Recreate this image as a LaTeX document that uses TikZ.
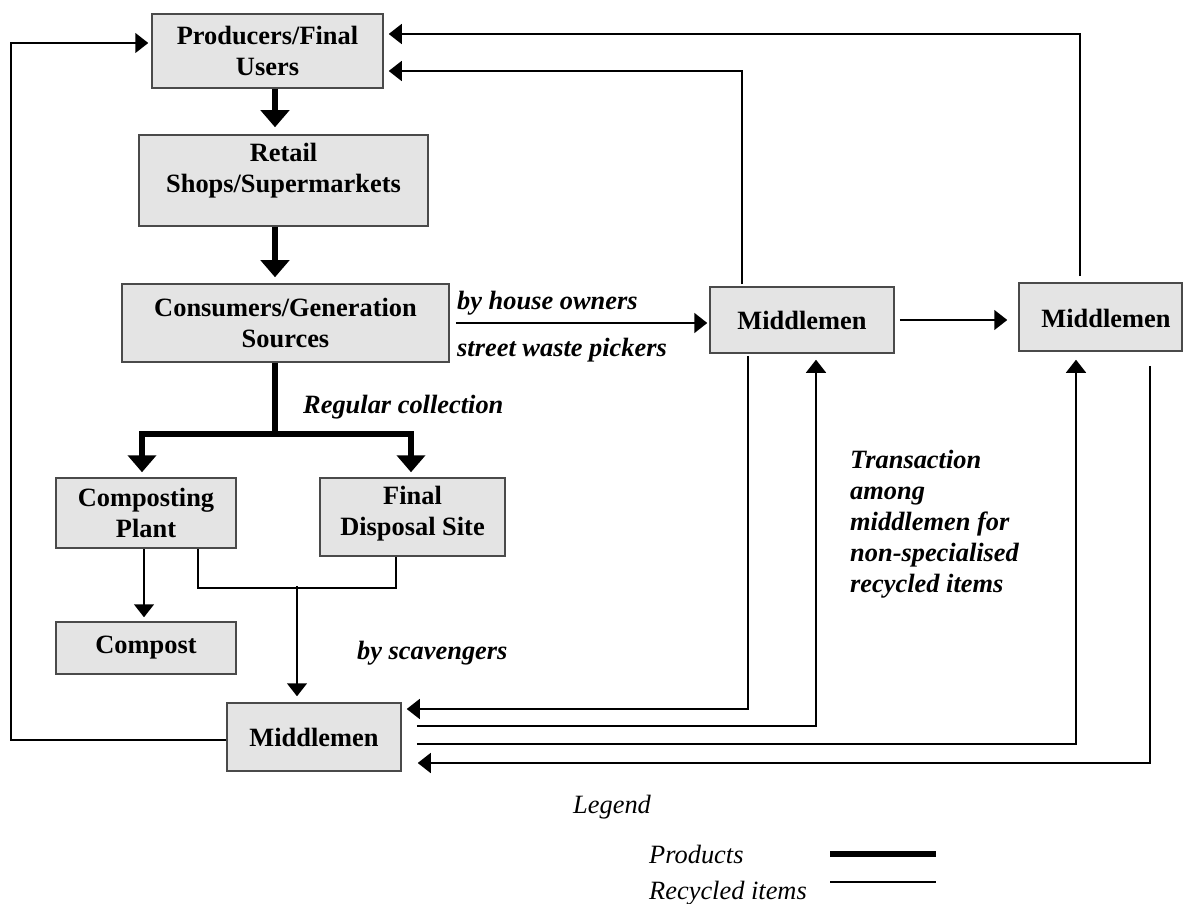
\documentclass[tikz,border=0pt]{standalone}
\usepackage{fontspec}
\setmainfont{Liberation Serif}
\usetikzlibrary{arrows.meta}
\definecolor{boxfill}{HTML}{E4E4E4}
\definecolor{boxline}{HTML}{4A4A4A}
\newcommand\myboxfont{\fontsize{26.4}{31}\selectfont\bfseries}
\newcommand\mylblfont{\fontsize{26.4}{31}\selectfont\bfseries\itshape}
\newcommand\mylegfont{\fontsize{26.4}{31}\selectfont\itshape}
\begin{document}
\begin{tikzpicture}[x=1pt,y=-1pt,
  box/.style={draw=boxline, line width=1.5pt, fill=boxfill, inner sep=0pt, align=center, font=\myboxfont},
  boxtext/.style={inner sep=0pt, align=center, font=\myboxfont},
  thinline/.style={line width=1.5pt},
  thinarrow/.style={line width=1.5pt, -{Triangle[length=13pt,width=20pt]}},
  prodline/.style={line width=5.5pt},
  prodarrow/.style={line width=5.5pt, -{Triangle[length=17pt,width=28pt]}},
  lbl/.style={inner sep=0pt, anchor=west, font=\mylblfont, align=left},
  leg/.style={inner sep=0pt, anchor=west, font=\mylegfont},
]
\useasboundingbox (0,0) rectangle (1184,904);

% boxes
\node[box, minimum width=231pt, minimum height=74pt] (prod) at (267.5,51) {Producers/Final\\Users};
\node[box, minimum width=289pt, minimum height=91pt] (retail) at (283.5,180.5) {};
\node[boxtext] (retailtxt) at (283.5,171) {Retail\\Shops/Supermarkets};
\node[box, minimum width=327pt, minimum height=78pt] (cons) at (285.5,323) {Consumers/Generation\\Sources};
\node[box, minimum width=180pt, minimum height=70pt] (comp) at (146,513) {Composting\\Plant};
\node[box, minimum width=185pt, minimum height=78pt] (fds) at (412.5,517) {};
\node[boxtext] (fdstxt) at (412.5,514) {Final\\Disposal Site};
\node[box, minimum width=180pt, minimum height=52pt] (compost) at (146,648) {Compost};
\node[box, minimum width=174pt, minimum height=68pt] (m0) at (314,737) {Middlemen};
\node[box, minimum width=184pt, minimum height=66pt] (m1) at (802,320) {Middlemen};
\node[box, minimum width=163pt, minimum height=68pt] (m2) at (1100.5,317) {};
\node[boxtext] (m2txt) at (1106,318) {Middlemen};

% product flow (thick)
\coordinate (spine) at (275,0);
\coordinate (barL) at (142,434);
\coordinate (barR) at (411,434);
\draw[prodarrow, shorten >=7pt] (spine |- prod.south) -- (spine |- retail.north);
\draw[prodarrow, shorten >=6pt] (spine |- retail.south) -- (spine |- cons.north);
\draw[prodline] (spine |- cons.south) -- (spine |- barL);
\draw[prodline, line cap=rect] (barL) -- (barR);
\draw[prodarrow, shorten >=5pt] (barL) -- (barL |- comp.north);
\draw[prodarrow, shorten >=5pt] (barR) -- (barR |- fds.north);

% recycled flow (thin)
\coordinate (br) at (297,588);
\coordinate (loopc) at (11,400);
\draw[thinarrow, shorten >=4pt] ([xshift=-2pt]comp.south) -- ([xshift=-2pt]compost.north);
\draw[thinline] ([xshift=52pt]comp.south) |- (br) -| ([xshift=-16.5pt]fds.south);
\draw[thinarrow, shorten >=6pt] ([yshift=2pt]br) -- (br |- m0.north);
\draw[thinarrow, shorten >=3pt] ([yshift=-3pt]m0.west) -| (loopc) |- ([yshift=8pt]prod.west);
\draw[thinarrow, line width=2pt, shorten <=6pt, shorten >=2pt] (cons.east) -- (cons.east -| m1.west);
\draw[thinarrow, shorten <=5pt, shorten >=11pt] (m1.east) -- (m1.east -| m2.west);
\draw[thinarrow, shorten <=2pt, shorten >=5pt] ([xshift=-60pt]m1.north) |- ([yshift=-20pt]prod.east);
\draw[thinarrow, shorten <=6pt, shorten >=5pt] ([xshift=-20.5pt]m2.north) |- ([yshift=17pt]prod.east);
\draw[thinarrow, shorten <=2pt, shorten >=5pt] ([xshift=-54pt]m1.south) |- ([yshift=28pt]m0.east);
\draw[thinarrow, shorten >=6pt] ([xshift=15pt,yshift=11pt]m0.east) -| ([xshift=14pt]m1.south);
\draw[thinarrow, shorten >=8pt] ([xshift=15pt,yshift=-7pt]m0.east) -| ([xshift=-24.5pt]m2.south);
\draw[thinarrow, shorten <=14pt, shorten >=16pt] ([xshift=49.5pt]m2.south) |- ([yshift=-26pt]m0.east);

% labels
\node[lbl] (lho) at (457,303) {by house owners};
\node[lbl] (lsw) at (457,350) {street waste pickers};
\node[lbl] (lrc) at (303,407) {Regular collection};
\node[lbl] (lsc) at (357,653) {by scavengers};
\node[lbl] (ltr) at (850,524) {Transaction\\among\\middlemen for\\non-specialised\\recycled items};

% legend
\node[leg] (lleg) at (573,807) {Legend};
\node[leg] (lprod) at (649,854) {Products};
\node[leg] (lrec) at (649,893) {Recycled items};
\coordinate (lpa) at (830,854);
\coordinate (lpb) at (936,854);
\coordinate (lra) at (830,882);
\coordinate (lrb) at (936,882);
\draw[prodline] (lpa) -- (lpb);
\draw[line width=2.5pt] (lra) -- (lrb);
\end{tikzpicture}
\end{document}
